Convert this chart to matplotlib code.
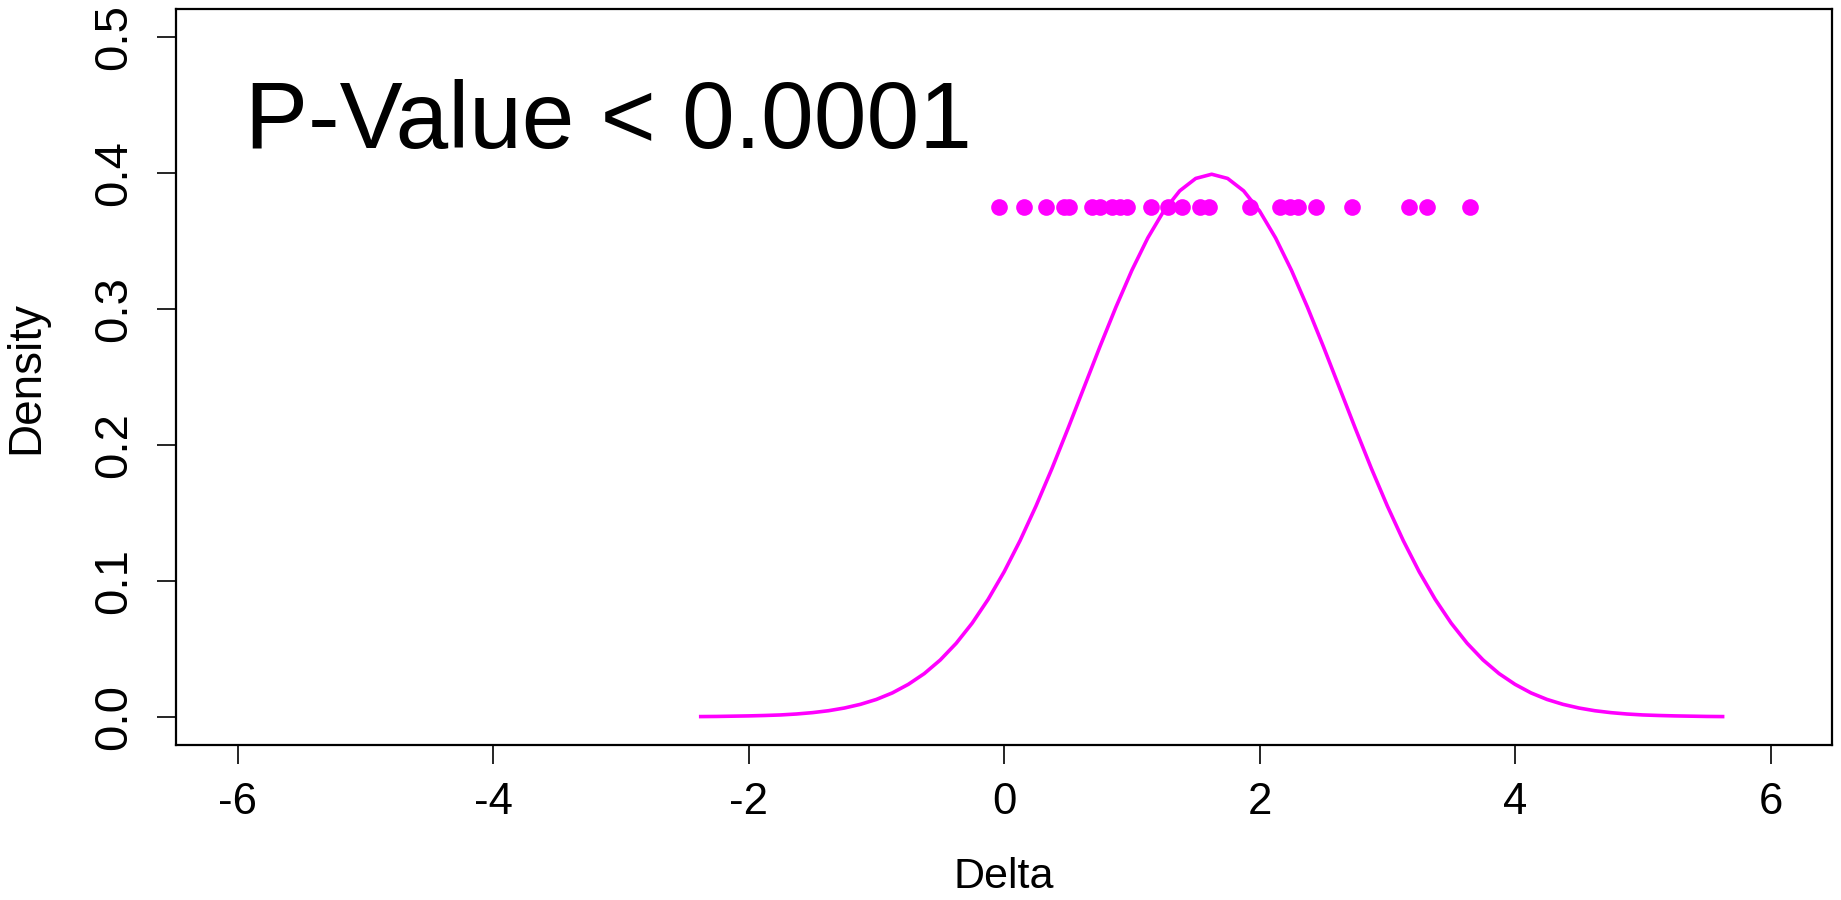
import matplotlib
matplotlib.use("Agg")
import matplotlib.pyplot as plt

plt.rcParams['font.family'] = ['Liberation Sans', 'DejaVu Sans']

# Density curve (Delta, density)
curve_x = [-2.375, -2.25, -2.125, -2.0, -1.875, -1.75, -1.625, -1.5, -1.375, -1.25,
           -1.125, -1.0, -0.875, -0.75, -0.625, -0.5, -0.375, -0.25, -0.125, 0.0,
           0.125, 0.25, 0.375, 0.5, 0.625, 0.75, 0.875, 1.0, 1.125, 1.25,
           1.375, 1.5, 1.625, 1.75, 1.875, 2.0, 2.125, 2.25, 2.375, 2.5,
           2.625, 2.75, 2.875, 3.0, 3.125, 3.25, 3.375, 3.5, 3.625, 3.75,
           3.875, 4.0, 4.125, 4.25, 4.375, 4.5, 4.625, 4.75, 4.875, 5.0,
           5.125, 5.25, 5.375, 5.5, 5.625]
curve_y = [0.0001, 0.0002, 0.0004, 0.0006, 0.0009, 0.0013, 0.0020, 0.0030, 0.0044, 0.0064,
           0.0091, 0.0127, 0.0175, 0.0238, 0.0317, 0.0417, 0.0540, 0.0688, 0.0863, 0.1065,
           0.1295, 0.1550, 0.1826, 0.2119, 0.2420, 0.2721, 0.3011, 0.3282, 0.3521, 0.3719,
           0.3867, 0.3958, 0.3989, 0.3958, 0.3867, 0.3719, 0.3521, 0.3282, 0.3011, 0.2721,
           0.2420, 0.2119, 0.1826, 0.1550, 0.1295, 0.1065, 0.0863, 0.0688, 0.0540, 0.0417,
           0.0317, 0.0238, 0.0175, 0.0127, 0.0091, 0.0064, 0.0044, 0.0030, 0.0020, 0.0013,
           0.0009, 0.0006, 0.0004, 0.0002, 0.0001]

# Observed deltas (points)
obs_delta = [-0.04, 0.155, 0.327, 0.468, 0.507, 0.69, 0.75, 0.841, 0.906, 0.966,
             1.149, 1.285, 1.389, 1.533, 1.603, 1.924, 2.159, 2.237, 2.302, 2.441,
             2.723, 3.169, 3.307, 3.646]
obs_level = 0.375

x_ticks = [-6, -4, -2, 0, 2, 4, 6]
y_ticks = [0.0, 0.1, 0.2, 0.3, 0.4, 0.5]
y_tick_labels = ["0.0", "0.1", "0.2", "0.3", "0.4", "0.5"]
annotation = "P-Value < 0.0001"
magenta = "#FF00FF"

fig = plt.figure(figsize=(18.41, 9.0), dpi=100)
ax = fig.add_axes([176 / 1841, 1 - 745 / 900, (1831.7 - 176) / 1841, (745 - 9) / 900])

ax.plot(curve_x, curve_y, color=magenta, lw=2.6, solid_joinstyle='round')
ax.plot(obs_delta, [obs_level] * len(obs_delta), 'o', color=magenta, ms=12,
        markeredgewidth=0, linestyle='none')

ax.set_xlim(-6.483, 6.479)
ax.set_ylim(-0.0208, 0.5204)

ax.set_xticks(x_ticks)
ax.set_xticklabels([str(t) for t in x_ticks])
ax.set_yticks(y_ticks)
ax.set_yticklabels(y_tick_labels, rotation=90, va='center')

for sp in ax.spines.values():
    sp.set_linewidth(1.6)
ax.tick_params(axis='both', direction='out', length=14, width=1.2, color='black')
ax.tick_params(axis='x', labelsize=31.5, pad=13)
ax.tick_params(axis='y', labelsize=34, pad=15)

ax.set_xlabel("Delta", fontsize=31, labelpad=24)
ax.set_ylabel("Density", fontsize=33, labelpad=31)

ax.text(-5.943, 0.418, annotation, fontsize=68, ha='left', va='baseline', color='black')

fig.savefig("out.png", dpi=100)
